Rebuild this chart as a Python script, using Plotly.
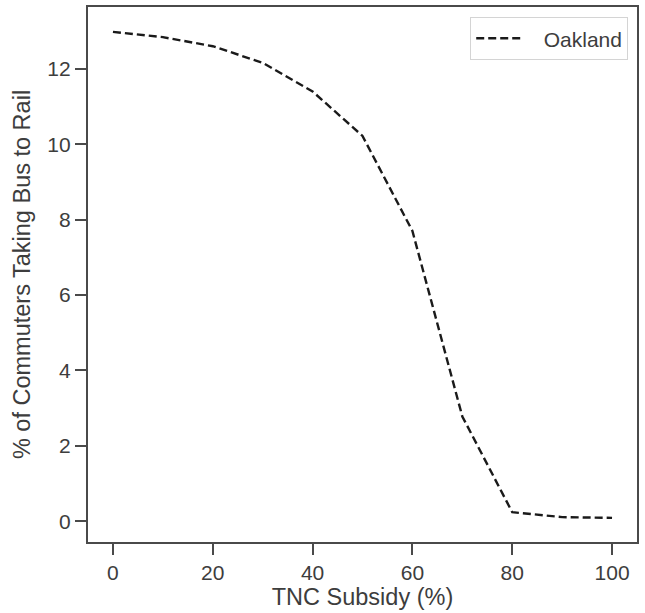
import plotly.graph_objects as go

subsidy = [0, 10, 20, 30, 40, 50, 60, 70, 80, 90, 100]
oakland = [12.98, 12.84, 12.6, 12.16, 11.4, 10.22, 7.7, 2.78, 0.24, 0.11, 0.09]
xticks = [0, 20, 40, 60, 80, 100]
yticks = [0, 2, 4, 6, 8, 10, 12]

FONT = "Liberation Sans, Arial, sans-serif"
TXT = "#3d3d3d"

fig = go.Figure()
fig.add_trace(go.Scatter(x=subsidy, y=oakland, mode="lines", name="\u00a0\u00a0\u00a0Oakland",
                         line=dict(color="#1a1a1a", width=2.4, dash="8px,4px")))

axis_common = dict(showline=True, linecolor="#4a4a4a", linewidth=2.2, mirror=True,
                   ticks="outside", ticklen=11, tickwidth=2, tickcolor="#4a4a4a",
                   showgrid=False, zeroline=False, automargin=False,
                   tickfont=dict(family=FONT, size=21, color=TXT))

fig.update_layout(
    width=645, height=613,
    margin=dict(l=88, r=8, t=7, b=71, autoexpand=False),
    plot_bgcolor="white", paper_bgcolor="white",
    font=dict(family=FONT, size=21, color=TXT),
    xaxis=dict(range=[-5, 105], tickvals=xticks,
               title=dict(text="TNC Subsidy (%)", standoff=2,
                          font=dict(size=23.5, color=TXT)), **axis_common),
    yaxis=dict(range=[-0.55, 13.64], tickvals=yticks,
               title=dict(text="% of Commuters Taking Bus to Rail", standoff=10,
                          font=dict(size=23.5, color=TXT)), **axis_common),
    legend=dict(x=0.984, y=0.981, xanchor="right", yanchor="top",
                bgcolor="white", bordercolor="#d4d4d4", borderwidth=1,
                itemwidth=45,
                font=dict(size=21, color=TXT)),
    showlegend=True,
)

fig.write_html("out.html", config={"displayModeBar": False},
               post_script="document.body.style.margin='0';document.body.style.overflow='hidden';")
